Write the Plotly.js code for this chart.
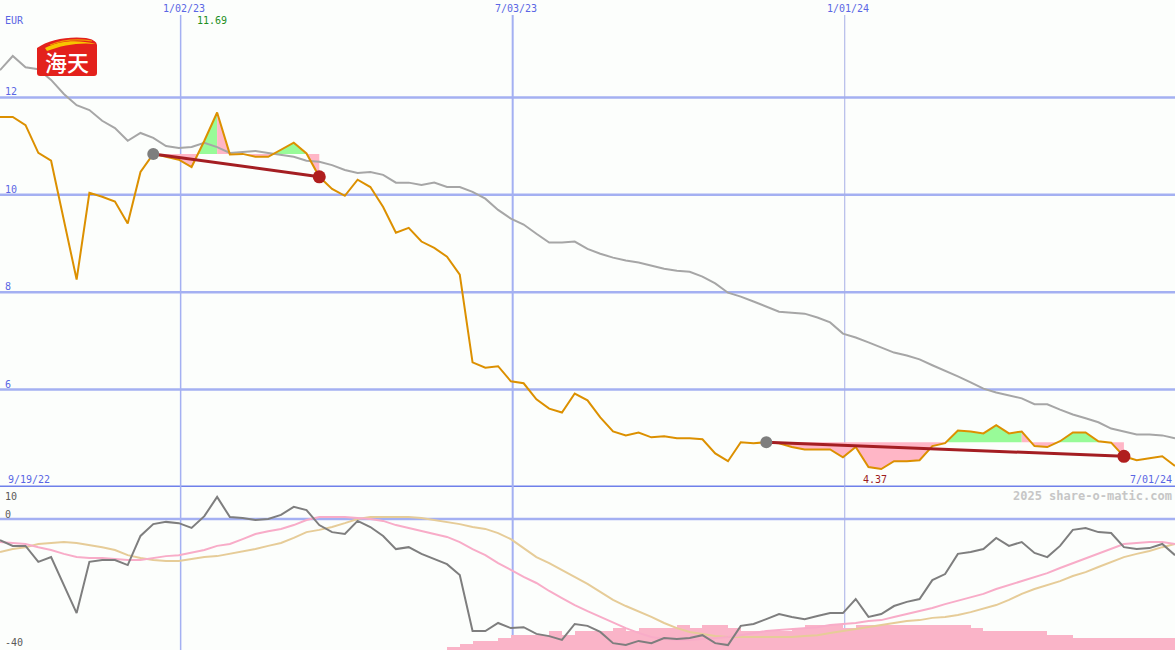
<!DOCTYPE html>
<html>
<head>
<meta charset="utf-8">
<script src="https://cdn.plot.ly/plotly-3.0.1.min.js"></script>
<style>html,body{margin:0;padding:0;background:#fcfefc;}#chart{width:1175px;height:650px;}</style>
</head>
<body>
<div id="chart"></div>
<script>
// ---------- data ----------
const dates = ['2022-09-25','2022-10-02','2022-10-09','2022-10-16','2022-10-23','2022-10-30','2022-11-06','2022-11-13','2022-11-20','2022-11-27',
'2022-12-04','2022-12-11','2022-12-18','2022-12-25','2023-01-01','2023-01-08','2023-01-15','2023-01-22','2023-01-29','2023-02-05',
'2023-02-12','2023-02-19','2023-02-26','2023-03-05','2023-03-12','2023-03-19','2023-03-26','2023-04-02','2023-04-09','2023-04-16',
'2023-04-23','2023-04-30','2023-05-07','2023-05-14','2023-05-21','2023-05-28','2023-06-04','2023-06-11','2023-06-18','2023-06-25',
'2023-07-02','2023-07-09','2023-07-16','2023-07-23','2023-07-30','2023-08-06','2023-08-13','2023-08-20','2023-08-27','2023-09-03',
'2023-09-10','2023-09-17','2023-09-24','2023-10-01','2023-10-08','2023-10-15','2023-10-22','2023-10-29','2023-11-05','2023-11-12',
'2023-11-19','2023-11-26','2023-12-03','2023-12-10','2023-12-17','2023-12-24','2023-12-31','2024-01-07','2024-01-14','2024-01-21',
'2024-01-28','2024-02-04','2024-02-11','2024-02-18','2024-02-25','2024-03-03','2024-03-10','2024-03-17','2024-03-24','2024-03-31',
'2024-04-07','2024-04-14','2024-04-21','2024-04-28','2024-05-05','2024-05-12','2024-05-19','2024-05-26','2024-06-02','2024-06-09',
'2024-06-16','2024-06-23','2024-06-30'];

const price = [11.60,11.60,11.43,10.86,10.70,9.49,8.26,10.04,9.96,9.86,
9.41,10.47,10.84,10.78,10.72,10.57,11.11,11.69,10.83,10.84,
10.78,10.78,10.92,11.07,10.85,10.37,10.12,9.98,10.31,10.16,
9.75,9.22,9.32,9.04,8.91,8.73,8.36,6.56,6.45,6.48,
6.17,6.13,5.80,5.61,5.53,5.92,5.78,5.43,5.14,5.06,
5.12,5.02,5.04,5.00,5.00,4.98,4.69,4.53,4.92,4.90,
4.92,4.90,4.82,4.77,4.77,4.77,4.61,4.82,4.41,4.37,
4.53,4.53,4.55,4.84,4.90,5.16,5.14,5.10,5.27,5.10,
5.14,4.84,4.82,4.94,5.12,5.12,4.94,4.91,4.63,4.55,
4.59,4.63,4.43];

const movingAvg = [12.56,12.85,12.62,12.58,12.36,12.07,11.84,11.74,11.52,11.37,
11.11,11.27,11.17,11.00,10.96,10.98,11.07,10.98,10.86,10.88,
10.90,10.86,10.82,10.78,10.70,10.68,10.61,10.51,10.45,10.47,
10.41,10.25,10.25,10.20,10.25,10.16,10.16,10.06,9.92,9.69,
9.51,9.39,9.20,9.02,9.02,9.04,8.89,8.79,8.71,8.65,
8.61,8.55,8.48,8.44,8.42,8.32,8.18,7.99,7.91,7.81,
7.70,7.60,7.58,7.56,7.48,7.38,7.15,7.07,6.97,6.86,
6.76,6.70,6.62,6.50,6.39,6.27,6.15,6.02,5.94,5.88,
5.82,5.70,5.70,5.59,5.49,5.41,5.33,5.20,5.14,5.08,
5.08,5.06,5.00];

const relStrength = [-6.6,-8.4,-8.4,-13.4,-11.9,-20.6,-29.4,-13.4,-12.8,-12.8,
-14.4,-5.3,-1.6,-0.9,-1.3,-2.8,0.9,6.9,0.6,0.3,
-0.3,0,1.3,3.8,2.8,-1.9,-4.1,-4.7,-0.6,-2.5,
-5.3,-9.4,-8.8,-10.9,-12.5,-14.1,-17.5,-35.0,-35.0,-32.5,
-34.1,-33.8,-35.9,-36.6,-37.8,-32.8,-33.4,-35.3,-38.8,-39.4,
-38.1,-38.8,-37.2,-37.5,-37.2,-36.3,-38.8,-39.4,-33.4,-32.8,
-31.3,-29.7,-30.6,-31.3,-30.3,-29.4,-29.4,-25.0,-30.6,-29.7,
-27.2,-25.9,-25.0,-19.1,-17.2,-10.9,-10.3,-9.4,-5.9,-8.4,
-7.2,-10.6,-11.9,-8.4,-3.4,-2.8,-4.1,-4.4,-8.8,-9.4,
-9.1,-7.8,-11.3];

const relFast = [-7.2,-7.5,-7.8,-8.8,-9.7,-10.9,-11.9,-12.2,-12.2,-12.5,
-12.8,-12.8,-12.2,-11.6,-11.3,-10.6,-9.7,-8.4,-7.8,-6.3,
-4.7,-3.8,-3.1,-1.9,-0.3,0.6,0.6,0.6,0.3,0,
-0.6,-1.9,-2.8,-3.8,-4.7,-5.6,-7.2,-9.4,-11.3,-13.8,
-15.9,-18.1,-20.0,-22.5,-24.7,-26.9,-28.8,-30.6,-32.5,-34.1,
-35.6,-36.9,-37.5,-37.8,-37.8,-37.5,-37.2,-36.9,-36.3,-35.6,
-35.0,-34.7,-34.4,-34.1,-33.8,-33.1,-32.8,-32.5,-31.9,-31.6,
-30.6,-29.7,-28.8,-27.8,-26.6,-25.6,-24.4,-23.4,-21.9,-20.6,
-19.4,-18.1,-16.9,-15.3,-13.8,-12.2,-10.6,-9.1,-7.8,-7.5,
-7.2,-7.2,-7.8];

const relSlow = [-10.3,-9.4,-8.8,-7.8,-7.5,-7.2,-7.5,-8.1,-8.8,-9.7,
-11.3,-12.2,-12.8,-13.1,-13.1,-12.5,-11.9,-11.6,-10.9,-10.0,
-9.4,-8.4,-7.5,-5.9,-4.1,-3.4,-2.5,-1.3,0,0.6,
0.6,0.6,0.6,0.3,-0.3,-0.9,-1.6,-2.5,-3.1,-4.4,
-6.3,-9.1,-11.9,-13.8,-15.9,-18.1,-20.3,-22.8,-25.3,-27.2,
-28.8,-30.6,-32.5,-34.1,-35.3,-35.9,-36.6,-36.9,-36.9,-36.9,
-36.9,-36.9,-36.9,-36.6,-36.3,-35.6,-35.0,-34.4,-33.8,-33.1,
-32.5,-31.9,-31.6,-30.9,-30.6,-30.0,-29.1,-28.1,-26.9,-25.3,
-23.4,-21.9,-20.6,-19.4,-17.8,-16.6,-15.0,-13.4,-11.9,-10.9,
-10.0,-8.8,-7.8];

const volume = [null,null,null,null,null,null,null,null,null,null,
null,null,null,null,null,null,null,null,null,null,
null,null,null,null,null,null,null,null,null,null,
null,null,null,null,null,0.9,1.9,2.8,2.8,3.75,
4.7,4.7,4.7,5.9,4.7,5.9,5.9,5.9,6.9,5.9,
6.9,6.9,6.9,7.8,6.9,7.8,7.8,6.9,5.9,5.9,
5.9,5.9,6.9,7.8,7.8,7.8,6.9,7.8,7.8,7.8,
7.8,7.8,7.8,7.8,7.8,7.8,6.9,5.9,5.9,5.9,
5.9,5.9,4.7,4.7,3.75,3.75,3.75,3.75,3.75,3.75,
3.75,3.75,3.75];

const trendSegments = [[12,25],[60,88]];
const topTickDates = ['2023-01-02','2023-07-03','2024-01-01'];
const topTickLabels = ['1/02/23','7/03/23','1/01/24'];
const priceTicks = [12,10,8,6];
const lowerTicks = [10,0,-40];
const currency = 'EUR';
const startLabel = '9/19/22';
const endLabel = '7/01/24';
const watermark = '2025 share-o-matic.com';
const logoText = '海天';

// ---------- layout constants ----------
const W = 1175, H = 650;
const topRange = [4, 14];
const lowRange = [-40.94, 10];
const splitPaper = 1 - 487 / H;
const py = p => 1 - p / H;
const MONO = 'DejaVu Sans Mono, monospace';
const BLUE = '#5a66e4';

// ---------- fill polygons between price and trend start level ----------
const greenPoly = {x: [], y: []}, pinkPoly = {x: [], y: []};
function pushPoly(t, pts) { pts.forEach(p => { t.x.push(p[0]); t.y.push(p[1]); }); t.x.push(null); t.y.push(null); }
trendSegments.forEach(([s, e]) => {
  const L = price[s];
  for (let i = s; i < e; i++) {
    const x0 = Date.parse(dates[i]), x1 = Date.parse(dates[i + 1]);
    const a = price[i] - L, b = price[i + 1] - L;
    const endAbove = b > 0;
    if ((a >= 0 && b >= 0) || (a <= 0 && b <= 0)) {
      const tgt = (a > 0 || b > 0) ? (endAbove ? greenPoly : pinkPoly) : pinkPoly;
      pushPoly(tgt, [[x0, price[i]], [x1, price[i + 1]], [x1, L], [x0, L]]);
    } else {
      const xc = x0 + (x1 - x0) * a / (a - b);
      pushPoly(a > 0 ? (endAbove ? greenPoly : pinkPoly) : pinkPoly, [[x0, price[i]], [xc, L], [x0, L]]);
      pushPoly(b > 0 ? greenPoly : pinkPoly, [[xc, L], [x1, price[i + 1]], [x1, L]]);
    }
  }
});

const traces = [];
traces.push({x: greenPoly.x, y: greenPoly.y, type: 'scatter', mode: 'lines', fill: 'toself', fillcolor: '#98fb98', line: {width: 0}, hoverinfo: 'skip', xaxis: 'x', yaxis: 'y'});
traces.push({x: pinkPoly.x, y: pinkPoly.y, type: 'scatter', mode: 'lines', fill: 'toself', fillcolor: '#ffb6c6', line: {width: 0}, hoverinfo: 'skip', xaxis: 'x', yaxis: 'y'});
traces.push({x: dates, y: movingAvg, type: 'scatter', mode: 'lines', line: {color: '#a6a6a6', width: 2}, xaxis: 'x', yaxis: 'y'});
traces.push({x: dates, y: price, type: 'scatter', mode: 'lines', line: {color: '#dc9000', width: 2}, xaxis: 'x', yaxis: 'y'});
trendSegments.forEach(([s, e]) => {
  traces.push({x: [dates[s], dates[e]], y: [price[s], price[e]], type: 'scatter', mode: 'lines', line: {color: '#a41e22', width: 3}, xaxis: 'x', yaxis: 'y'});
  traces.push({x: [dates[s]], y: [price[s]], type: 'scatter', mode: 'markers', marker: {color: '#7e7e7e', size: 12}, xaxis: 'x', yaxis: 'y'});
  traces.push({x: [dates[e]], y: [price[e]], type: 'scatter', mode: 'markers', marker: {color: '#b01e1e', size: 13}, xaxis: 'x', yaxis: 'y'});
});
// lower panel
traces.push({x: dates, y: volume, base: lowRange[0], type: 'bar', width: 7 * 86400000, offset: 0, marker: {color: '#fab4c8', line: {width: 0}}, xaxis: 'x', yaxis: 'y2'});
traces.push({x: dates, y: relSlow, type: 'scatter', mode: 'lines', line: {color: '#e6cc98', width: 2}, xaxis: 'x', yaxis: 'y2'});
traces.push({x: dates, y: relFast, type: 'scatter', mode: 'lines', line: {color: '#f8acc8', width: 2}, xaxis: 'x', yaxis: 'y2'});
traces.push({x: dates, y: relStrength, type: 'scatter', mode: 'lines', line: {color: '#7e7e7e', width: 2}, xaxis: 'x', yaxis: 'y2'});

// ---------- shapes ----------
const shapes = [];
priceTicks.forEach(v => shapes.push({type: 'line', xref: 'paper', yref: 'y', x0: 0, x1: 1, y0: v, y1: v, line: {color: '#a4b0f2', width: 2.5}, layer: 'below'}));
shapes.push({type: 'line', xref: 'paper', yref: 'y2', x0: 0, x1: 1, y0: 0, y1: 0, line: {color: '#a4b0f2', width: 2.5}, layer: 'below'});
shapes.push({type: 'line', xref: 'paper', yref: 'y', x0: 0, x1: 1, y0: topRange[0], y1: topRange[0], line: {color: '#6f80ea', width: 3}, layer: 'below'});
const vWidths = [1.5, 2, 1];
topTickDates.forEach((d, i) => shapes.push({type: 'line', xref: 'x', yref: 'paper', x0: d, x1: d, y0: 0, y1: py(15), line: {color: i === 2 ? '#a6aee6' : '#a4b0f2', width: vWidths[i]}, layer: 'below'}));

// ---------- annotations ----------
const ann = [];
const txt = (o) => Object.assign({showarrow: false, font: {family: MONO, size: 10, color: BLUE}}, o);
ann.push(txt({text: currency, xref: 'paper', yref: 'paper', x: 3 / W, y: py(20), xanchor: 'left', yanchor: 'middle'}));
priceTicks.forEach(v => ann.push(txt({text: String(v), xref: 'paper', yref: 'y', x: 3 / W, y: v, yshift: -2, xanchor: 'left', yanchor: 'bottom'})));
topTickDates.forEach((d, i) => ann.push(txt({text: topTickLabels[i], xref: 'x', yref: 'paper', x: d, xshift: 3, y: py(8), xanchor: 'center', yanchor: 'middle'})));
const maxI = price.indexOf(Math.max(...price));
const minI = price.indexOf(Math.min(...price));
ann.push(txt({text: price[maxI].toFixed(2), xref: 'x', yref: 'paper', x: dates[maxI], xshift: -5, y: py(20), xanchor: 'center', yanchor: 'middle', font: {family: MONO, size: 10, color: '#1f8f1f'}}));
ann.push(txt({text: price[minI].toFixed(2), xref: 'x', yref: 'paper', x: dates[minI], xshift: -6, y: py(479), xanchor: 'center', yanchor: 'middle', font: {family: MONO, size: 10, color: '#9c1c1c'}}));
ann.push(txt({text: startLabel, xref: 'paper', yref: 'paper', x: 6 / W, y: py(479), xanchor: 'left', yanchor: 'middle'}));
ann.push(txt({text: endLabel, xref: 'paper', yref: 'paper', x: 1, xshift: -1, y: py(479), xanchor: 'right', yanchor: 'middle'}));
ann.push(txt({text: '<b>' + watermark + '</b>', xref: 'paper', yref: 'paper', x: 1, xshift: -1, y: py(496), xanchor: 'right', yanchor: 'middle', font: {family: MONO, size: 12, color: '#c6c6c6'}}));
const lowAnchor = {10: 'top', 0: 'bottom', '-40': 'bottom'};
const lowShift = {10: -2, 0: -3, '-40': -3};
lowerTicks.forEach(v => ann.push(txt({text: String(v), xref: 'paper', yref: 'y2', x: 3 / W, y: v, yshift: lowShift[v], xanchor: 'left', yanchor: lowAnchor[v], font: {family: MONO, size: 10, color: '#5a5a5a'}})));
ann.push({text: logoText, showarrow: false, xref: 'paper', yref: 'paper', x: 67 / W, y: py(61), xanchor: 'center', yanchor: 'middle', font: {family: 'Noto Sans CJK SC', size: 22, color: '#ffffff', weight: 500}});

// logo background (no text)
const logoSvg = '<svg xmlns="http://www.w3.org/2000/svg" width="62" height="42" viewBox="0 0 62 42">' +
  '<path d="M1,13 C12,5 32,1 50,3 C56,4 60,6 61,10 L61,38 Q61,41 58,41 L4,41 Q1,41 1,38 Z" fill="#e3211c"/>' +
  '<path d="M9,13 C22,6 40,4 60,9 C44,7 26,10 11,16 Z" fill="#f7c600"/>' +
  '<path d="M14,10 C26,5 42,4 56,6" stroke="#f39a00" stroke-width="1.2" fill="none"/>' +
  '</svg>';
const images = [{source: 'data:image/svg+xml;charset=utf-8,' + encodeURIComponent(logoSvg), xref: 'paper', yref: 'paper', x: 36 / W, y: py(35), sizex: 62 / W, sizey: 42 / H, xanchor: 'left', yanchor: 'top', sizing: 'stretch', layer: 'above'}];

const layout = {
  width: W, height: H,
  margin: {l: 0, r: 0, t: 0, b: 0, pad: 0},
  paper_bgcolor: '#fcfefc', plot_bgcolor: '#fcfefc',
  showlegend: false,
  bargap: 0,
  xaxis: {type: 'date', range: ['2022-09-25', '2024-06-30'], showgrid: false, zeroline: false, showticklabels: false, ticks: '', showline: false, anchor: 'y2'},
  yaxis: {domain: [splitPaper, 1], range: topRange, showgrid: false, zeroline: false, showticklabels: false, showline: false},
  yaxis2: {domain: [0, splitPaper], range: lowRange, showgrid: false, zeroline: false, showticklabels: false, showline: false},
  shapes: shapes,
  annotations: ann,
  images: images
};

Plotly.newPlot('chart', traces, layout, {staticPlot: true, displayModeBar: false});
</script>
</body>
</html>
